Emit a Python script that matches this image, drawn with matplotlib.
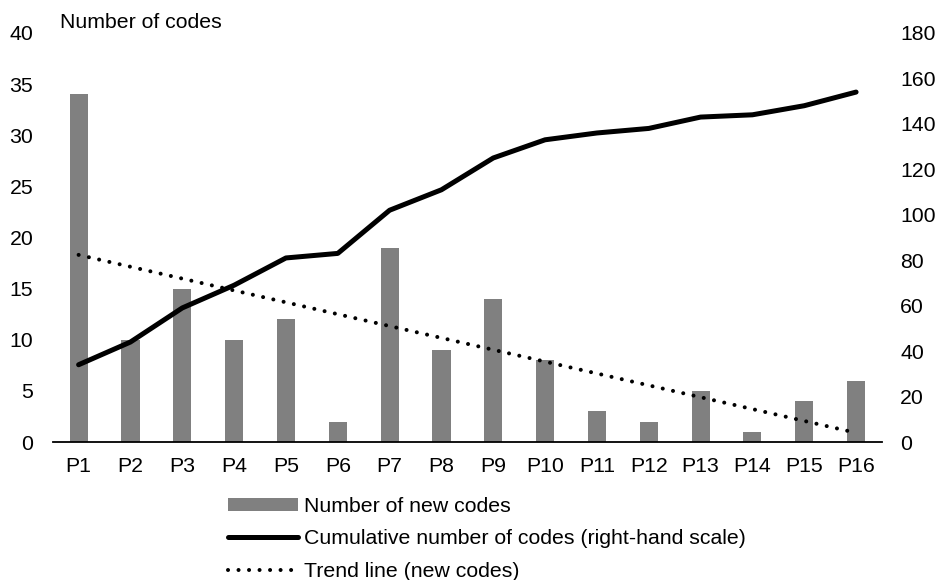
import matplotlib
matplotlib.use("Agg")
import numpy as np
from matplotlib import pyplot as plt

plt.rcParams['font.family'] = ['Liberation Sans', 'DejaVu Sans']

periods    = ["P%d" % i for i in range(1, 17)]
new_codes  = [34, 10, 15, 10, 12, 2, 19, 9, 14, 8, 3, 2, 5, 1, 4, 6]
cumulative = [34, 44, 59, 69, 81, 83, 102, 111, 125, 133, 136, 138, 143, 144, 148, 154]
trend_ends = [18.3, 0.9]   # trend line value at P1 and at P16

grey  = "#808080"
black = "#000000"
fs    = 15.3

fig = plt.figure(figsize=(9.38, 5.8), dpi=100)
ax = fig.add_axes([52.7 / 938, 1 - 442 / 580, 829.3 / 938, 409 / 580])
ax2 = ax.twinx()

X = np.arange(len(periods))
bars = ax.bar(X, new_codes, width=0.35, color=grey, zorder=2)
trend, = ax.plot([X[0], X[-1]], trend_ends, color=black, lw=2.9,
                 linestyle=(0, (0.01, 2.6)), dash_capstyle="round", zorder=4)
cum, = ax2.plot(X, cumulative, color=black, lw=3.6, solid_joinstyle="round",
                solid_capstyle="round", zorder=3)

ax.set_xlim(-0.5, len(periods) - 0.5)
ax.set_ylim(0, 40)
ax.set_yticks(range(0, 41, 5))
ax2.set_ylim(0, 180)
ax2.set_yticks(range(0, 181, 20))
ax.set_xticks(X)
ax.set_xticklabels(periods)

for a in (ax, ax2):
    for s in ["top", "left", "right"]:
        a.spines[s].set_visible(False)
    a.spines["bottom"].set_visible(a is ax)
    a.tick_params(length=0, labelsize=fs)
ax.spines["bottom"].set_linewidth(1.3)
ax.tick_params(axis="y", pad=14)
ax.tick_params(axis="x", pad=11)
ax2.tick_params(axis="y", pad=13)

fig.text(60 / 938, 1 - 23 / 580, "Number of codes", fontsize=fs, va="center", ha="left")

fig.legend([bars, cum, trend],
           ["Number of new codes",
            "Cumulative number of codes (right-hand scale)",
            "Trend line (new codes)"],
           loc="upper left", bbox_to_anchor=(228 / 938, 1 - 497 / 580),
           frameon=False, fontsize=fs, handlelength=3.3, handleheight=0.56,
           handletextpad=0.28, labelspacing=0.63, borderpad=0, borderaxespad=0)

fig.savefig("out.png", dpi=100)
